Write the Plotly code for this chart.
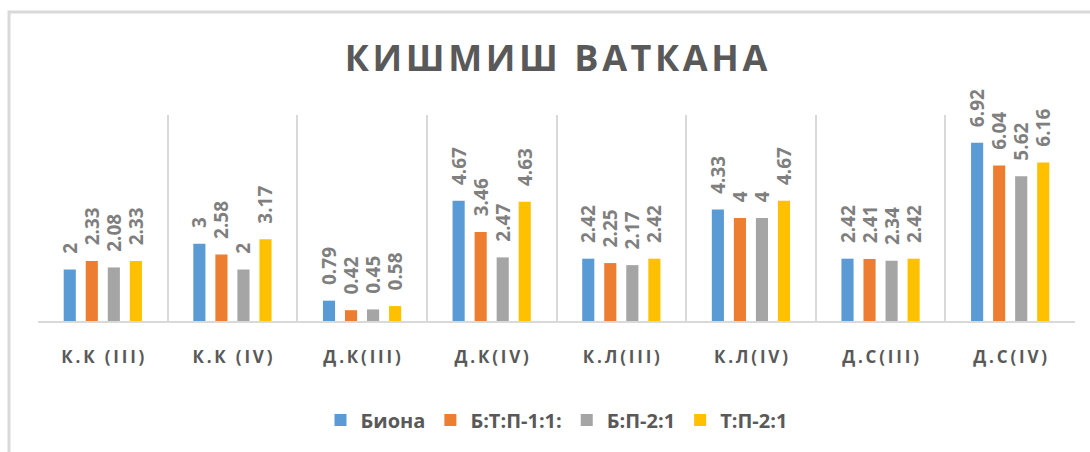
import plotly.graph_objects as go

categories = ["К.К (III)", "К.К (IV)", "Д.К(III)", "Д.К(IV)", "К.Л(III)", "К.Л(IV)", "Д.С(III)", "Д.С(IV)"]
series_names = ["Биона", "Б:Т:П-1:1:", "Б:П-2:1", "Т:П-2:1"]
biona = [2, 3, 0.79, 4.67, 2.42, 4.33, 2.42, 6.92]
btp = [2.33, 2.58, 0.42, 3.46, 2.25, 4, 2.41, 6.04]
bp = [2.08, 2, 0.45, 2.47, 2.17, 4, 2.34, 5.62]
tp = [2.33, 3.17, 0.58, 4.63, 2.42, 4.67, 2.42, 6.16]
colors = ["#5B9BD5", "#ED7D31", "#A5A5A5", "#FFC000"]
title_text = "КИШМИШ ВАТКАНА"

W, H = 1090, 452
L, R, T, B = 38, 15, 115, 129


def spaced(s, sep="\u2009"):
    return sep.join(list(s))


fig = go.Figure()
for name, vals, col in zip(series_names, [biona, btp, bp, tp], colors):
    fig.add_trace(go.Bar(
        x=categories, y=vals, name=name, marker=dict(color=col, line=dict(width=0)),
        text=[f"{v:g}" for v in vals], texttemplate="\u2002\u2009%{text}",
        textposition="outside", textangle=-90,
        textfont=dict(family="Open Sans", size=19, color="#7F7F7F", weight="bold"),
        constraintext="none", cliponaxis=False,
    ))

pw = W - L - R
ph = H - T - B
def px(x):
    return (x - L) / pw
def py(y):
    return (H - B - y) / ph

fig.update_layout(
    width=W, height=H,
    margin=dict(l=L, r=R, t=T, b=B),
    paper_bgcolor="white", plot_bgcolor="white",
    barmode="group", bargap=0.32, bargroupgap=0.45,
    title=dict(text=spaced(title_text, "\u200a"), x=px(556), xref="paper", xanchor="center",
               y=1 - 58 / H, yanchor="middle",
               font=dict(family="Open Sans", size=36, color="#595959", weight="bold")),
    xaxis=dict(tickson="boundaries", showgrid=True, gridcolor="#D9D9D9", gridwidth=1.5,
               showline=True, linecolor="#D9D9D9", linewidth=2, ticks="",
               tickvals=categories, ticktext=[spaced(c) for c in categories],
               tickfont=dict(family="Open Sans", size=17, color="#595959", weight="bold"),
               ticklabelstandoff=20),
    yaxis=dict(range=[0, 8], showgrid=False, showticklabels=False, zeroline=False, showline=False),
    legend=dict(orientation="h", x=0.5, xanchor="center", y=py(423), yanchor="middle",
                font=dict(family="Open Sans", size=20, color="#595959", weight="bold"),
                itemwidth=30, traceorder="normal"),
    showlegend=True,
    shapes=[dict(type="rect", xref="paper", yref="paper", x0=px(9), y0=py(11), x1=px(1100), y1=py(470),
                 line=dict(color="#D9D9D9", width=3), layer="below")],
)

fig.write_html("out.html")
